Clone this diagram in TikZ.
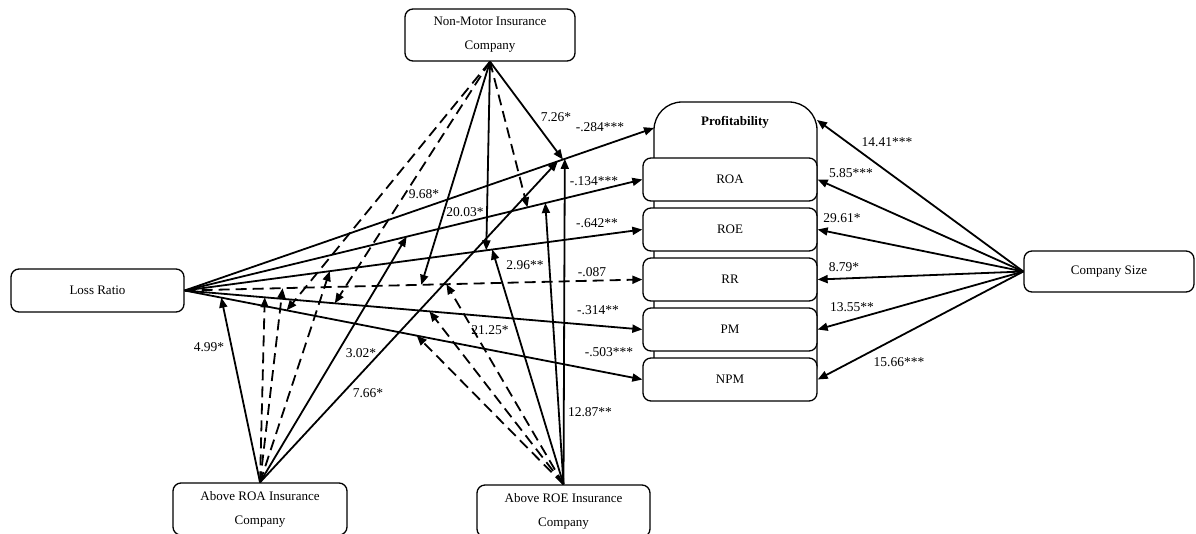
\documentclass[tikz,border=0pt]{standalone}
\usepackage{fontspec}
\setmainfont{Liberation Serif}
\usetikzlibrary{arrows.meta,calc}
\begin{document}
\begin{tikzpicture}[x=1pt,y=-1pt,
	box/.style={draw, line width=1.3pt, rounded corners=8pt, fill=white, inner sep=0pt, align=center, font=\fontsize{13}{24}\selectfont},
	arr/.style={line width=1.8pt, -{Triangle[length=10pt,width=8pt]}},
	dsh/.style={arr, dash pattern=on 11pt off 6pt},
	lbl/.style={font=\fontsize{13.5}{15}\selectfont, inner sep=0pt}]
	\useasboundingbox (0,0) rectangle (1196,533);
	\clip (0,0) rectangle (1196,533);

	% variables
	\node[box, minimum width=173pt, minimum height=43pt] (lr) at (97.5,290.5) {Loss Ratio};
	\node[box, minimum width=170pt, minimum height=52pt] (nm) at (490,35) {Non-Motor Insurance\\Company};
	\node[box, minimum width=174pt, minimum height=52pt] (aroa) at (260,509) {Above ROA Insurance\\Company};
	\node[box, minimum width=173pt, minimum height=52pt] (aroe) at (563.5,511) {Above ROE Insurance\\Company};
	\node[box, minimum width=170pt, minimum height=41pt] (cs) at (1109,271.5) {Company Size};

	% profitability block
	\node[draw, line width=1.3pt, rounded corners=28pt, minimum width=163pt, minimum height=290pt, inner sep=0pt] (prof) at (735.5,247) {};
	\node[font=\fontsize{13}{15}\selectfont\bfseries] (proftxt) at (735,122) {Profitability};
	\foreach \n/\t/\y in {roa/ROA/179.5,roe/ROE/229.5,rr/RR/279.5,pm/PM/329.5,npm/NPM/379.5}
		\node[box, minimum width=174pt, minimum height=43pt] (\n) at (730,\y) {\t};
	\coordinate (profW) at (654,128);
	\coordinate (profE) at (817,120);

	% direct paths
	\foreach \t/\s in {profW/arr,roa.west/arr,roe.west/arr,rr.west/dsh,pm.west/arr,npm.west/arr}
		\draw[\s] (lr.east) -- (\t);
	\foreach \t in {profE,roa.east,roe.east,rr.east,pm.east,npm.east}
		\draw[arr] (cs.west) -- (\t);

	% moderating paths
	\foreach \m/\s/\t/\f in {nm/arr/profW/0.806,nm/dsh/roa.west/0.749,nm/arr/roe.west/0.659,nm/arr/rr.west/0.517,nm/dsh/pm.west/0.328,nm/dsh/npm.west/0.223}
		\draw[\s] (\m.south) -- ($(lr.east)!\f!(\t)$);
	\foreach \m/\s/\t/\f in {aroa/arr/profW/0.795,aroa/arr/roa.west/0.485,aroa/dsh/roe.west/0.317,aroa/dsh/rr.west/0.214,aroa/dsh/pm.west/0.175,aroa/arr/npm.west/0.08}
		\draw[\s] (\m.north) -- ($(lr.east)!\f!(\t)$);
	\foreach \m/\s/\t/\f in {aroe/arr/profW/0.81,aroe/arr/roa.west/0.788,aroe/arr/roe.west/0.672,aroe/dsh/rr.west/0.572,aroe/dsh/pm.west/0.535,aroe/dsh/npm.west/0.507}
		\draw[\s] (\m.north) -- ($(lr.east)!\f!(\t)$);

	% coefficients
	\foreach \x/\y/\v [count=\i] in {600/127/{-.284***},594/181/{-.134***},597/223/{-.642**},592/272/{-.087},598/310/{-.314**},609/352/{-.503***},
		556/117/{7.26*},424/194/{9.68*},465/212/{20.03*},525/265/{2.96**},490/330/{21.25*},590/412/{12.87**},
		209/347/{4.99*},361/353/{3.02*},368/393/{7.66*},
		887/142/{14.41***},851/173/{5.85***},842/218/{29.61*},844/267/{8.79*},852/307/{13.55**},899/362/{15.66***}}
		\node[lbl] (c\i) at (\x,\y) {\v};
\end{tikzpicture}
\end{document}
